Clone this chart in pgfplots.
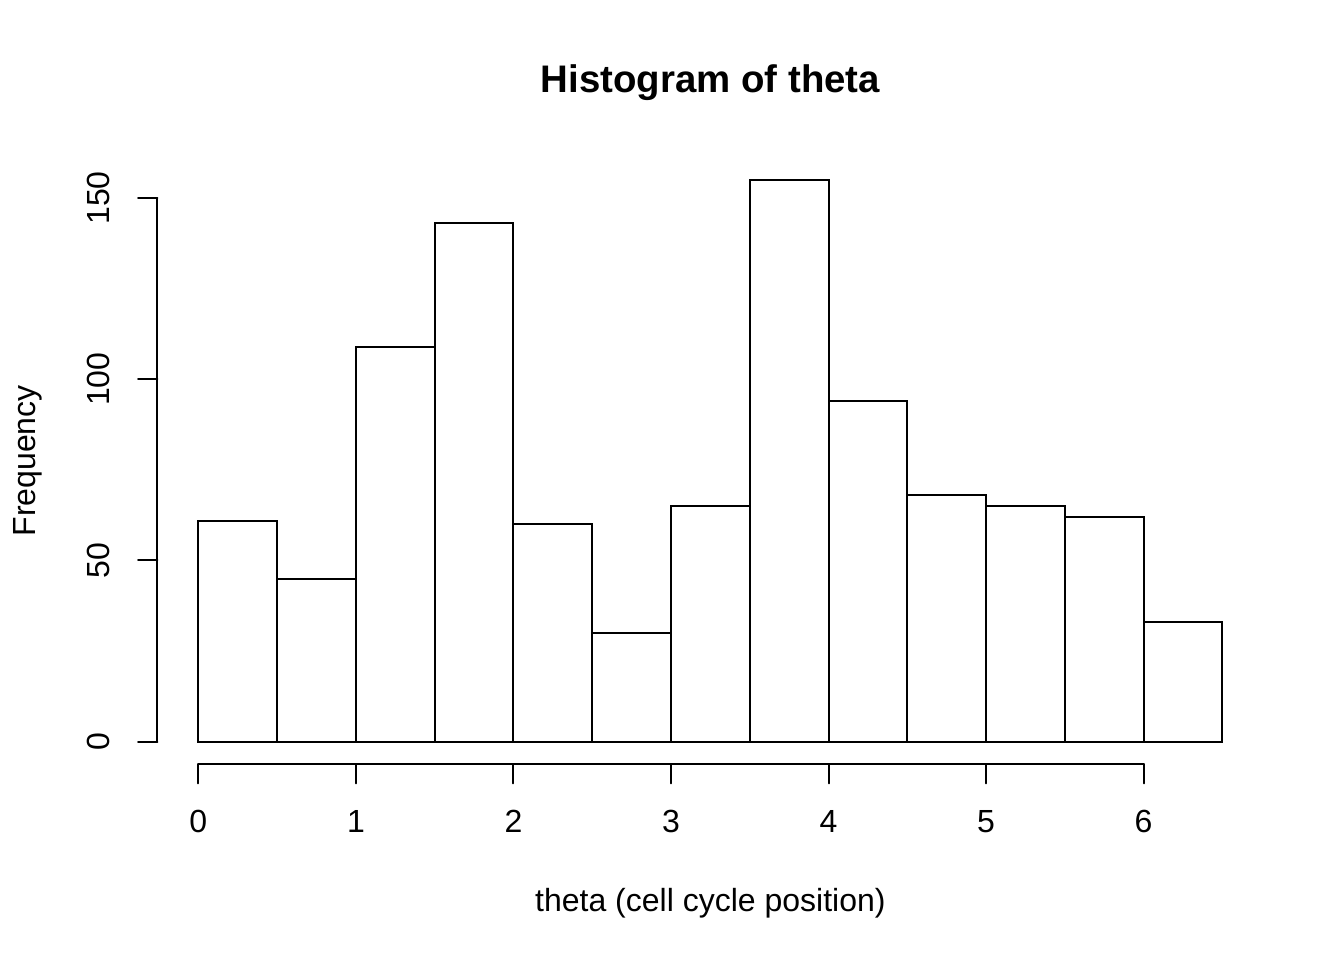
\documentclass[border=0pt]{standalone}
\usepackage{fontspec}
\setmainfont{Liberation Sans}
\usepackage{pgfplots}
\pgfplotsset{compat=1.18}

% counts per bin, bins of width 0.5 from 0 to 6.5 (last row closes the interval)
\begin{document}
\begin{tikzpicture}[font=\fontsize{12}{14.4}\selectfont]
\begin{axis}[
    name=ax, at={(0,0)}, anchor=south west,
    scale only axis, width=414.72pt, height=227.52pt,
    xmin=-0.26, xmax=6.76, ymin=-6.2, ymax=161.2,
    axis x line*=bottom, axis y line*=left,
    axis line style={draw=none},
    clip=false,
    xtick={0,1,2,3,4,5,6}, ytick={0,50,100,150},
    tick align=outside, major tick length=7.2pt,
    every tick/.style={black, line width=0.75pt, line cap=round},
    /pgf/number format/assume math mode=true,
    xticklabel style={anchor=base, inner sep=0pt},
    xticklabel shift=18.6pt,
    yticklabel style={rotate=90, anchor=base, inner sep=0pt},
    yticklabel shift=10.6pt,
    title={Histogram of theta},
    xlabel={theta (cell cycle position)},
    ylabel={Frequency},
    every axis title/.style={at={(axis description cs:0.5,1)}, yshift=24.2pt,
        anchor=base, inner sep=0pt, font=\bfseries\fontsize{14.4}{17}\selectfont},
    every axis x label/.style={at={(axis description cs:0.5,0)}, yshift=-55.1pt,
        anchor=base, inner sep=0pt},
    every axis y label/.style={at={(axis description cs:0,0.5)}, xshift=-45.9pt,
        rotate=90, anchor=base, inner sep=0pt},
]
\addplot[ybar interval, fill=white, draw=black, line width=0.75pt] coordinates {
    (0,61) (0.5,45) (1,109) (1.5,143) (2,60) (2.5,30) (3,65)
    (3.5,155) (4,94) (4.5,68) (5,65) (5.5,62) (6,33) (6.5,33)
};
\draw[line width=0.75pt, line cap=round] (axis cs:0,-6.2) -- (axis cs:6,-6.2);
\draw[line width=0.75pt, line cap=round] (axis cs:-0.26,0) -- (axis cs:-0.26,150);
\end{axis}
\pgfresetboundingbox
\useasboundingbox (-59.04pt,-73.44pt) rectangle (444.96pt,286.56pt);
\end{tikzpicture}
\end{document}
